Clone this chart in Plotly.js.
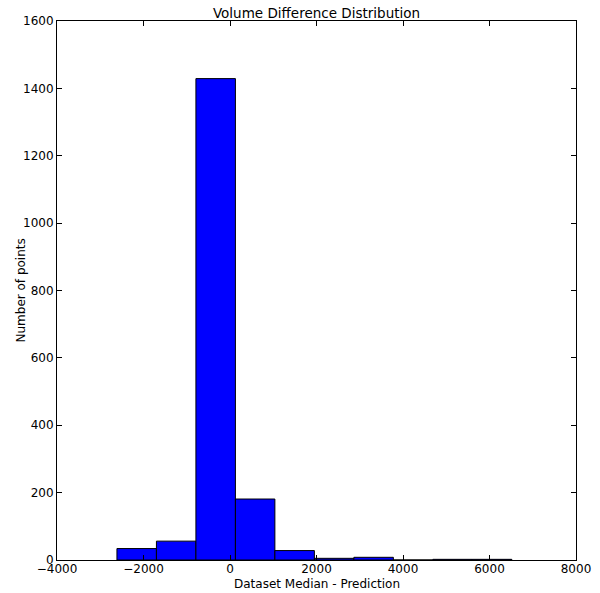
<!DOCTYPE html>
<html>
<head>
<meta charset="utf-8">
<script src="https://cdn.plot.ly/plotly-3.0.1.min.js"></script>
<style>html,body{margin:0;padding:0;background:#fff;}</style>
</head>
<body>
<div id="chart" style="width:600px;height:593px;"></div>
<script>
// Histogram bin edges
const binEdges = [-2614, -1701, -788, 125, 1038, 1951, 2864, 3777, 4690, 5603, 6516];
// Counts per bin
const counts = [34, 56, 1429, 181, 28, 5, 8, 0, 2, 2];
const xTicks = [-4000, -2000, 0, 2000, 4000, 6000, 8000];
const yTicks = [0, 200, 400, 600, 800, 1000, 1200, 1400, 1600];

const centers = [], widths = [];
for (let i = 0; i < counts.length; i++) {
  centers.push((binEdges[i] + binEdges[i + 1]) / 2);
  widths.push(binEdges[i + 1] - binEdges[i]);
}

const font = {family: 'DejaVu Sans, sans-serif', size: 12, color: '#000'};

Plotly.newPlot('chart', [{
  type: 'bar',
  x: centers,
  y: counts,
  width: widths,
  marker: {color: '#0000ff', line: {color: '#000', width: 1}},
  hoverinfo: 'x+y'
}], {
  width: 600, height: 593,
  margin: {l: 57, r: 24, t: 21, b: 33},
  paper_bgcolor: '#fff', plot_bgcolor: '#fff',
  font: font,
  showlegend: false,
  title: {text: 'Volume Difference Distribution', font: {family: 'DejaVu Sans, sans-serif', size: 13.5, color: '#000'}, x: 0.5, xref: 'paper', xanchor: 'center', y: 1 - 13/593, yanchor: 'middle'},
  xaxis: {
    range: [-4000, 8000], tickvals: xTicks, ticktext: xTicks.map(v => v < 0 ? '\u2212' + Math.abs(v) : String(v)),
    ticks: 'inside', ticklen: 5, tickcolor: '#000', mirror: 'allticks',
    showline: true, linecolor: '#000', linewidth: 1, showgrid: false, zeroline: false,
    tickfont: font, ticklabelstandoff: -2
  },
  yaxis: {
    range: [0, 1600], tickvals: yTicks,
    ticks: 'inside', ticklen: 5, tickcolor: '#000', mirror: 'allticks',
    showline: true, linecolor: '#000', linewidth: 1, showgrid: false, zeroline: false,
    tickfont: font
  },
  annotations: [
    {text: 'Dataset Median - Prediction', xref: 'paper', yref: 'paper', x: 0.5, y: 0, xanchor: 'center', yanchor: 'middle', yshift: -24, showarrow: false, font: font},
    {text: 'Number of points', xref: 'paper', yref: 'paper', x: 0, y: 0.5, xanchor: 'center', yanchor: 'middle', xshift: -37, textangle: -90, showarrow: false, font: font}
  ],
  bargap: 0
}, {displayModeBar: false, staticPlot: true});
</script>
</body>
</html>
